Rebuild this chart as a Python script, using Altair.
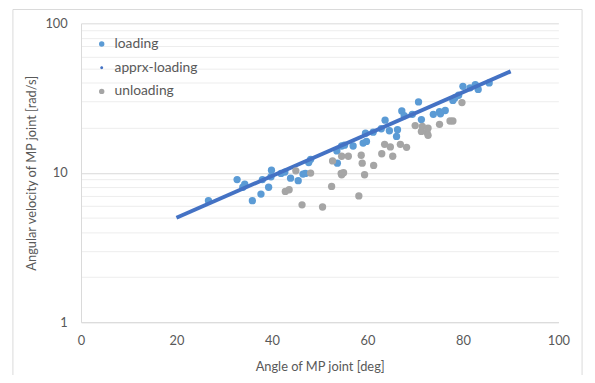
import altair as alt
import pandas as pd

load_x = [26.7, 32.7, 34.3, 33.9, 35.9, 37.7, 38.0, 39.3, 39.9, 39.8, 41.9, 42.7, 43.9, 45.5,
          46.5, 47.0, 48.1, 47.7, 53.7, 53.6, 54.6, 55.2, 57.0, 59.1, 59.8, 59.6, 61.2, 62.9,
          63.7, 64.6, 66.1, 66.3, 67.2, 67.7, 69.4, 70.7, 71.3, 73.8, 75.1, 76.3, 75.3, 77.9,
          79.1, 78.3, 80.0, 81.5, 82.6, 83.2, 85.5]
load_y = [6.5, 9.0, 8.4, 8.0, 6.5, 7.2, 9.0, 8.0, 10.4, 9.4, 9.9, 10.1, 9.2, 8.85,
          9.8, 9.9, 12.3, 11.7, 11.6, 14.0, 15.1, 15.3, 15.1, 15.8, 16.2, 18.4, 18.7, 19.7,
          22.5, 19.1, 17.5, 19.4, 25.9, 24.1, 24.6, 29.8, 22.7, 24.6, 25.6, 26.1, 24.8, 30.5,
          33.0, 31.7, 37.9, 37.0, 38.9, 36.1, 39.9]

unload_x = [42.8, 43.6, 45.0, 46.3, 48.1, 50.6, 52.5, 52.7, 54.5, 54.6, 55.0, 54.6, 56.0,
            58.2, 58.7, 58.9, 59.4, 61.3, 63.0, 63.6, 64.8, 65.3, 66.9, 68.2, 70.0, 71.5,
            71.3, 72.5, 72.7, 72.7, 75.1, 77.3, 77.9, 79.8]
unload_y = [7.5, 7.7, 10.3, 6.1, 9.95, 5.9, 8.1, 12.0, 9.9, 9.7, 10.0, 12.9, 12.9,
            7.0, 13.1, 11.6, 9.7, 11.2, 13.4, 15.5, 14.9, 12.9, 15.5, 14.8, 20.7, 20.4,
            18.9, 18.6, 17.8, 19.9, 21.1, 22.2, 22.2, 29.5]

fit_x = [20, 90]
fit_y = [5.0, 47.7]

series = ["loading", "apprx-loading", "unloading"]
colors = ["#5B9BD5", "#4472C4", "#A5A5A5"]
small_dot = "M-0.55,0A0.55,0.55 0 1,0 0.55,0A0.55,0.55 0 1,0 -0.55,0"
shapes = ["circle", small_dot, "circle"]

x_ticks = [0, 20, 40, 60, 80, 100]
y_ticks = [1, 2, 3, 4, 5, 6, 7, 8, 9, 10, 20, 30, 40, 50, 60, 70, 80, 90, 100]

df_load = pd.DataFrame({"x": load_x, "y": load_y, "series": "loading"})
df_unload = pd.DataFrame({"x": unload_x, "y": unload_y, "series": "unloading"})
df_fit = pd.DataFrame({"x": fit_x, "y": fit_y, "series": "apprx-loading"})

xenc = alt.X("x:Q", scale=alt.Scale(domain=[0, 100], nice=False),
             axis=alt.Axis(values=x_ticks, grid=False, ticks=False, domainColor="#D9D9D9",
                           labelFlush=False,
                           title="Angle of MP joint [deg]", labelPadding=13, titlePadding=13))
yenc = alt.Y("y:Q", scale=alt.Scale(type="log", domain=[1, 100], nice=False),
             axis=alt.Axis(values=y_ticks, format="d", labelFlush=False,
                           labelExpr="datum.value == 1 || datum.value == 10 || datum.value == 100 ? format(datum.value, 'd') : ''",
                           ticks=False, domainColor="#D9D9D9",
                           gridColor={"condition": {"test": "datum.value == 1 || datum.value == 10 || datum.value == 100",
                                                    "value": "#D9D9D9"}, "value": "#EDEDED"},
                           title="Angular velocity of MP joint [rad/s]", labelPadding=14,
                           titlePadding=6))

legend = alt.Legend(title=None, orient="none", legendX=14, legendY=14,
                    labelFontSize=14, labelColor="#595959", symbolSize=30,
                    rowPadding=10, labelOffset=6, symbolStrokeWidth=0)
color = alt.Color("series:N", scale=alt.Scale(domain=series, range=colors), legend=legend)
shape = alt.Shape("series:N", scale=alt.Scale(domain=series, range=shapes), legend=legend)

frame = alt.Chart(pd.DataFrame({"a": [0]})).mark_rect(
    fill=None, stroke="#D9D9D9", strokeWidth=1).encode(
    x=alt.value(-69), x2=alt.value(508), y=alt.value(-14), y2=alt.value(400))

pts_load = alt.Chart(df_load).mark_point(filled=True, size=55, opacity=1, strokeWidth=0).encode(
    x=xenc, y=yenc, color=color, shape=shape)
line = alt.Chart(df_fit).mark_line(color="#4472C4", strokeWidth=4).encode(x="x:Q", y="y:Q")
pts_unload = alt.Chart(df_unload).mark_point(filled=True, size=55, opacity=1, strokeWidth=0).encode(
    x="x:Q", y="y:Q", color=color, shape=shape)

chart = alt.layer(frame, pts_load, line, pts_unload).properties(
    width=484, height=303, autosize=alt.AutoSizeParams(type="none"),
    padding={"left": 74, "top": 13, "right": 29, "bottom": 51},
    background="white"
).configure_view(stroke=None).configure_axis(
    labelFont="Lato", titleFont="Lato", labelFontSize=13, titleFontSize=13,
    labelColor="#595959", titleColor="#595959", titleFontWeight="normal"
).configure_legend(labelFont="Lato")

chart.save("out.html", embed_options={"renderer": "svg", "actions": False})
